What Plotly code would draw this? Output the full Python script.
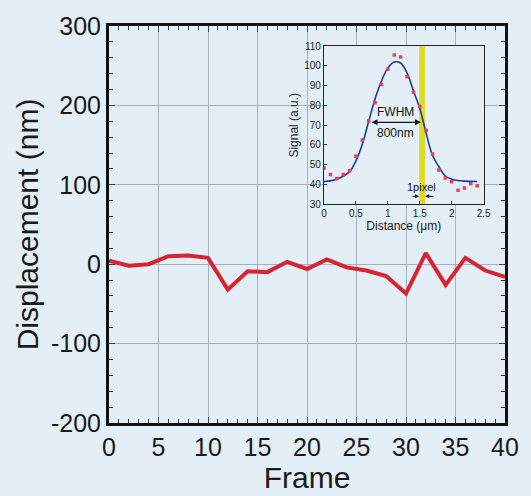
import plotly.graph_objects as go

# Main chart data
frames = [0, 2, 4, 6, 8, 10, 12, 14, 16, 18, 20, 22, 24, 26, 28, 30, 32, 34, 36, 38, 40]
displacement = [4.5, -2, 0, 10, 11, 8, -32, -9, -10, 3, -6, 6, -4, -8, -15, -37, 14, -26, 8, -8, -16]

# Inset data: measured signal points
dist_pts = [0.0, 0.1, 0.2, 0.3, 0.4, 0.5, 0.6, 0.7, 0.8, 0.9, 1.0, 1.1, 1.2,
            1.3, 1.4, 1.5, 1.6, 1.7, 1.8, 1.9, 2.0, 2.1, 2.2, 2.3, 2.4]
signal_pts = [48.3, 45.1, 43.0, 45.1, 47.0, 54.3, 62.5, 72.2, 81.4, 90.6, 98.3, 105.6, 104.6,
              94.6, 86.7, 79.5, 67.5, 55.5, 47.3, 43.3, 41.4, 37.1, 38.2, 40.4, 39.4]

# Inset fitted curve
fit_x = [0.0, 0.2, 0.4, 0.5, 0.6, 0.7, 0.8, 0.9, 1.0, 1.1, 1.2, 1.3, 1.4, 1.5,
         1.6, 1.7, 1.8, 1.9, 2.0, 2.1, 2.2, 2.4]
fit_y = [41.5, 42.7, 46.5, 52.0, 60.4, 72.0, 83.4, 92.4, 99.0, 102.0, 101.5, 96.5, 87.5, 78.5,
         66.0, 54.7, 49.0, 44.3, 42.7, 42.0, 41.7, 41.5]

pixel_band = [1.49, 1.585]
fwhm_span = [0.72, 1.52]

main_x_ticks = [0, 5, 10, 15, 20, 25, 30, 35, 40]
main_y_ticks = [-200, -100, 0, 100, 200, 300]
main_y_labels = ["-200", "-100", "0", "100", "200", "300"]
inset_x_ticks = [0, 0.5, 1, 1.5, 2, 2.5]
inset_x_labels = ["0", "0.5", "1", "1.5", "2", "2.5"]
inset_y_ticks = [30, 40, 50, 60, 70, 80, 90, 100, 110]

BG = "#e4eef6"
FONT = "Liberation Sans, Arial, sans-serif"

fig = go.Figure()
fig.add_trace(go.Scatter(x=frames, y=displacement, mode="lines",
                         line=dict(color="#d62433", width=4), xaxis="x", yaxis="y",
                         showlegend=False))
fig.add_trace(go.Scatter(x=fit_x, y=fit_y, mode="lines", line=dict(color="#1c3c9a", width=1.6, shape="spline"),
                         xaxis="x2", yaxis="y2", showlegend=False))
fig.add_trace(go.Scatter(x=dist_pts, y=signal_pts, mode="markers",
                         marker=dict(color="#e8405a", size=3.5, symbol="square"),
                         xaxis="x2", yaxis="y2", showlegend=False))

fig.add_shape(type="rect", xref="x2", yref="y2", x0=pixel_band[0], x1=pixel_band[1],
              y0=30, y1=110, fillcolor="#dcdc28", line=dict(width=0), layer="below")

annots = [
    dict(x=fwhm_span[1], y=71.5, ax=fwhm_span[0], ay=71.5, xref="x2", yref="y2", axref="x2", ayref="y2",
         showarrow=True, arrowhead=2, arrowsize=1, arrowwidth=1.2, arrowside="end+start", text="",
         arrowcolor="#111"),
    dict(x=1.12, y=76.5, xref="x2", yref="y2", text="FWHM", showarrow=False,
         font=dict(size=12, color="#111", family=FONT)),
    dict(x=1.12, y=66.3, xref="x2", yref="y2", text="800nm", showarrow=False,
         font=dict(size=12, color="#111", family=FONT)),
    dict(x=1.53, y=38.8, xref="x2", yref="y2", text="1pixel", showarrow=False,
         font=dict(size=11, color="#111", family=FONT)),
    dict(x=pixel_band[0], y=34.0, ax=1.36, ay=34.0, xref="x2", yref="y2", axref="x2", ayref="y2",
         showarrow=True, arrowhead=2, arrowsize=0.8, arrowwidth=1, text="", arrowcolor="#111"),
    dict(x=pixel_band[1], y=34.0, ax=1.74, ay=34.0, xref="x2", yref="y2", axref="x2", ayref="y2",
         showarrow=True, arrowhead=2, arrowsize=0.8, arrowwidth=1, text="", arrowcolor="#111"),
]

fig.update_layout(
    width=531, height=496,
    margin=dict(l=109, r=17, t=22, b=66),
    paper_bgcolor=BG, plot_bgcolor=BG,
    font=dict(family=FONT, color="#1a1a1a"),
    annotations=annots,
    xaxis=dict(range=[0, 40], tickvals=main_x_ticks, ticks="inside", ticklen=6, tickwidth=1,
               minor=dict(dtick=1, ticks="inside", ticklen=4, tickcolor="#333", showgrid=False),
               showline=True, linewidth=3, linecolor="#111", mirror="allticks",
               showgrid=True, gridcolor="#a6b3bf", gridwidth=1, zeroline=False,
               tickfont=dict(size=25), title=dict(text="Frame", font=dict(size=30), standoff=2)),
    yaxis=dict(range=[-200, 300], tickvals=main_y_ticks, ticktext=main_y_labels,
               ticks="inside", ticklen=6, tickwidth=1,
               minor=dict(dtick=20, ticks="inside", ticklen=4, tickcolor="#333", showgrid=False),
               showline=True, linewidth=3, linecolor="#111", mirror="allticks",
               showgrid=True, gridcolor="#a6b3bf", gridwidth=1, zeroline=False,
               tickfont=dict(size=25), title=dict(text="Displacement (nm)", font=dict(size=30), standoff=4)),
    xaxis2=dict(domain=[0.543, 0.946], anchor="y2", range=[0, 2.5], tickvals=inset_x_ticks,
                ticktext=inset_x_labels, ticks="inside", ticklen=3,
                showline=True, linewidth=1.2, linecolor="#222", mirror=True, showgrid=False,
                zeroline=False, tickfont=dict(size=10),
                title=dict(text="Distance (μm)", font=dict(size=12), standoff=2)),
    yaxis2=dict(domain=[0.551, 0.949], anchor="x2", range=[30, 110], tickvals=inset_y_ticks,
                ticks="inside", ticklen=3,
                showline=True, linewidth=1.2, linecolor="#222", mirror=True, showgrid=False,
                zeroline=False, tickfont=dict(size=10),
                title=dict(text="Signal (a.u.)", font=dict(size=12), standoff=3)),
)

fig.write_html("out.html")
